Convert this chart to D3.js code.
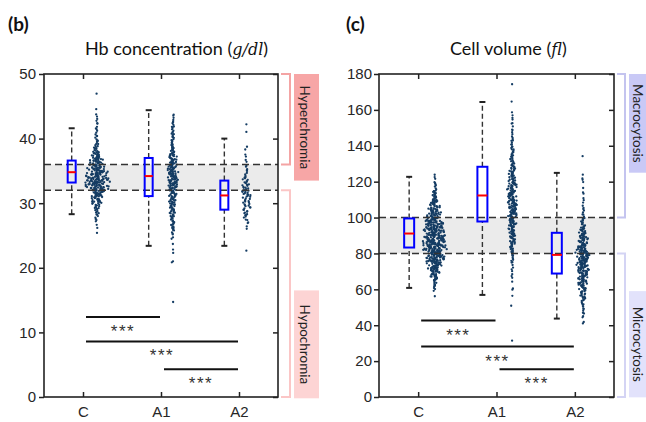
<!DOCTYPE html>
<html><head><meta charset="utf-8">
<script src="https://cdn.jsdelivr.net/npm/d3@7"></script>
<style>body{margin:0;background:#fff} svg{display:block}</style>
</head><body><svg id="chart" width="646" height="422"></svg>
<script>
// ---------------- DATA ----------------
const categories = ["C", "A1", "A2"];

// Panel (b) Hb concentration (g/dl)
const hbTicks = [0, 10, 20, 30, 40, 50];
const hbQ1 = [33.2, 31.1, 29.0];
const hbMedian = [34.8, 34.2, 31.2];
const hbQ3 = [36.6, 37.0, 33.5];
const hbWhiskerLow = [28.3, 23.4, 23.4];
const hbWhiskerHigh = [41.6, 44.4, 40.0];
const hbNormal = [32, 36];
// histogram of individual cells: [bin start, count], bin width 1 g/dl
const hbCountsC = [[25,1],[26,2],[27,4],[28,8],[29,12],[30,18],[31,28],[32,40],[33,45],[34,42],[35,35],[36,28],[37,18],[38,10],[39,6],[40,5],[41,4],[42,3],[43,3],[44,1],[46,1]];
const hbCountsA1 = [[14,1],[20,1],[21,1],[22,2],[23,1],[24,2],[25,5],[26,8],[27,10],[28,12],[29,14],[30,16],[31,18],[32,22],[33,25],[34,25],[35,24],[36,20],[37,16],[38,10],[39,8],[40,7],[41,6],[42,5],[43,3]];
const hbCountsA2 = [[22,1],[26,3],[27,5],[28,8],[29,9],[30,10],[31,12],[32,10],[33,8],[34,5],[35,4],[36,2],[37,2],[38,2],[41,1],[42,1]];
const hbSig = [[1, 2, 12.4], [1, 3, 8.6], [2, 3, 4.3]];

// Panel (c) Cell volume (fl)
const mcvTicks = [0, 20, 40, 60, 80, 100, 120, 140, 160, 180];
const mcvQ1 = [83.3, 97.8, 68.8];
const mcvMedian = [91.1, 112.3, 79.2];
const mcvQ3 = [99.5, 128.3, 91.5];
const mcvWhiskerLow = [60.8, 56.9, 43.7];
const mcvWhiskerHigh = [122.7, 164.4, 124.9];
const mcvNormal = [80, 100];
// bin width 5 fl
const mcvCountsC = [[55,2],[60,10],[65,25],[70,45],[75,60],[80,70],[85,72],[90,68],[95,55],[100,40],[105,28],[110,16],[115,8],[120,3]];
const mcvCountsA1 = [[30,1],[50,1],[55,2],[60,2],[65,3],[70,5],[75,8],[80,14],[85,20],[90,24],[95,28],[100,30],[105,30],[110,28],[115,26],[120,22],[125,18],[130,13],[135,10],[140,7],[145,5],[150,4],[155,3],[160,1],[170,1]];
const mcvCountsA2 = [[40,3],[45,6],[50,10],[55,16],[60,25],[65,32],[70,38],[75,40],[80,38],[85,30],[90,20],[95,12],[100,6],[105,4],[110,3],[115,2],[120,3],[130,1]];
const mcvSig = [[1, 2, 42.6], [1, 3, 28.1], [2, 3, 15.4]];

// ---------------- DRAW ----------------
const svg = d3.select("#chart");
const TXT = "#262626";

// deterministic hash used only for horizontal/within-bin jitter placement
function hash(i, s) { const v = Math.sin(i * 127.1 + s * 311.7) * 43758.5453; return v - Math.floor(v); }

function swarm(bins, binW, maxHalf, seed) {
  const maxC = d3.max(bins, d => d[1]);
  const c = bins.map(d => [d[0] + binW / 2, d[1]]);
  const dens = v => {
    if (v <= c[0][0]) return c[0][1];
    if (v >= c[c.length - 1][0]) return c[c.length - 1][1];
    for (let k = 0; k < c.length - 1; k++) {
      if (v >= c[k][0] && v <= c[k + 1][0]) {
        if (c[k + 1][0] - c[k][0] > binW * 1.5) return Math.min(c[k][1], c[k + 1][1]);
        const t = (v - c[k][0]) / (c[k + 1][0] - c[k][0]);
        return c[k][1] * (1 - t) + c[k + 1][1] * t;
      }
    }
    return 1;
  };
  const pts = []; let idx = seed;
  bins.forEach(([v, n]) => {
    for (let j = 0; j < n; j++) {
      idx++;
      const val = v + binW * ((j + hash(idx, 1)) / n);
      const hw = Math.max(1.0, maxHalf * dens(val) / maxC);
      const r = hash(idx, 2), r2 = hash(idx, 3);
      pts.push({ v: val, dx: ((r + r2) - 1) * hw * 1.15 });
    }
  });
  return pts;
}

function panel(cfg) {
  const g = svg.append("g");
  const x = d3.scaleLinear().domain([0.5, 3.5]).range([cfg.left, cfg.right]);
  const y = d3.scaleLinear().domain([0, cfg.ticks[cfg.ticks.length - 1]]).range([397, 74]);

  // normal band
  g.append("rect").attr("x", cfg.left).attr("width", cfg.right - cfg.left)
    .attr("y", y(cfg.normal[1])).attr("height", y(cfg.normal[0]) - y(cfg.normal[1]))
    .attr("fill", "#ebebeb");

  // swarms
  cfg.counts.forEach((bins, i) => {
    const pts = swarm(bins, cfg.binW, cfg.swarmHalf[i], i * 1000 + 7 + cfg.binW * 97);
    const cx = x(i + 1 + cfg.swarmOff[i]);
    g.append("g").selectAll("circle").data(pts).join("circle")
      .attr("cx", d => cx + d.dx).attr("cy", d => y(d.v)).attr("r", 1.15)
      .attr("fill", "#143c63");
  });

  // reference lines
  cfg.normal.forEach(v => {
    g.append("line").attr("x1", cfg.left).attr("x2", cfg.right).attr("y1", y(v)).attr("y2", y(v))
      .attr("stroke", "#333").attr("stroke-width", 1.5).attr("stroke-dasharray", "7,4");
  });

  // boxes
  categories.forEach((c, i) => {
    const bx = x(i + 1 + cfg.boxOff[i]);
    const hw = cfg.boxW / 2;
    [[cfg.q3[i], cfg.hi[i]], [cfg.lo[i], cfg.q1[i]]].forEach(([a, b]) => {
      g.append("line").attr("x1", bx).attr("x2", bx).attr("y1", y(a)).attr("y2", y(b))
        .attr("stroke", "#333").attr("stroke-width", 1.4).attr("stroke-dasharray", "5,3");
    });
    [cfg.lo[i], cfg.hi[i]].forEach(v => {
      g.append("line").attr("x1", bx - 3).attr("x2", bx + 3).attr("y1", y(v)).attr("y2", y(v))
        .attr("stroke", "#222").attr("stroke-width", 2);
    });
    g.append("rect").attr("x", bx - hw).attr("width", cfg.boxW)
      .attr("y", y(cfg.q3[i])).attr("height", y(cfg.q1[i]) - y(cfg.q3[i]))
      .attr("fill", "none").attr("stroke", "#0000ff").attr("stroke-width", 2);
    g.append("line").attr("x1", bx - hw).attr("x2", bx + hw).attr("y1", y(cfg.med[i])).attr("y2", y(cfg.med[i]))
      .attr("stroke", "#ff0000").attr("stroke-width", 2);
  });

  // significance bars
  cfg.sig.forEach(([a, b, v]) => {
    const x1 = x(a) + 3, x2 = x(b) - 1;
    g.append("line").attr("x1", x1).attr("x2", x2).attr("y1", y(v)).attr("y2", y(v))
      .attr("stroke", "#111").attr("stroke-width", 2);
    g.append("text").attr("x", (x1 + x2) / 2).attr("y", y(v) + 20)
      .attr("text-anchor", "middle").attr("font-family", "Liberation Sans, Arial").attr("font-size", 17)
      .attr("letter-spacing", 1.5).attr("fill", "#333").text("***");
  });

  // axes
  const left = g.append("g").attr("transform", `translate(${cfg.left},0)`)
    .call(d3.axisLeft(y).tickValues(cfg.ticks).tickSizeInner(5).tickSizeOuter(0).tickPadding(cfg.tickPad));
  const right = g.append("g").attr("transform", `translate(${cfg.right},0)`)
    .call(d3.axisLeft(y).tickValues(cfg.ticks).tickSizeInner(5).tickSizeOuter(0).tickFormat(""));
  const top = g.append("g").attr("transform", `translate(0,74)`)
    .call(d3.axisBottom(x).tickValues([1, 2, 3]).tickSizeInner(5).tickSizeOuter(0).tickFormat(""));
  const bottom = g.append("g").attr("transform", `translate(0,397)`)
    .call(d3.axisBottom(x).tickValues([1, 2, 3]).tickSizeInner(-5).tickSizeOuter(0).tickPadding(9)
      .tickFormat(d => categories[d - 1]));
  [left, right, top, bottom].forEach(a => {
    a.select(".domain").remove();
    a.selectAll("line").attr("stroke", "#222").attr("stroke-width", 1.5);
    a.selectAll("text").attr("font-family", "Liberation Sans, Arial").attr("font-size", 15).attr("fill", TXT);
  });
  g.append("rect").attr("x", cfg.left).attr("y", 74).attr("width", cfg.right - cfg.left).attr("height", 397 - 74)
    .attr("fill", "none").attr("stroke", "#222").attr("stroke-width", 1.6);

  // side brackets
  cfg.brackets.forEach(br => {
    const y1 = y(br.range[1]), y2 = y(br.range[0]);
    g.append("path").attr("d", `M${cfg.right + 3},${y1}H${cfg.brX}V${y2}H${cfg.right + 3}`)
      .attr("fill", "none").attr("stroke", br.line).attr("stroke-width", 2);
    const by1 = y(br.box[1]), by2 = y(br.box[0]);
    g.append("rect").attr("x", cfg.brX + 4).attr("width", 25).attr("y", by1).attr("height", by2 - by1)
      .attr("fill", br.fill);
    const ty = (by1 + by2) / 2;
    // baseline placed so the glyph tops face right
    g.append("text").attr("transform", `translate(${cfg.textBase},${ty}) rotate(90)`)
      .attr("text-anchor", "middle")
      .attr("font-family", "Lato, Open Sans").attr("font-size", 13.5).attr("fill", "#222").text(br.label);
  });

  // title
  const t = g.append("text").attr("x", cfg.titleX).attr("y", 55)
    .attr("font-family", "Lato, Open Sans").attr("font-size", 18).attr("fill", "#111");
  t.append("tspan").text(cfg.title + " (");
  t.append("tspan").attr("font-family", "DejaVu Serif, Liberation Serif").attr("font-style", "italic").attr("font-size", 16).text(cfg.unit);
  t.append("tspan").text(")");
  g.append("text").attr("x", cfg.labelX).attr("y", 31).attr("font-family", "Lato, Open Sans")
    .attr("font-weight", "bold").attr("font-size", 19).attr("fill", "#111").text(cfg.label);
}

panel({
  left: 44, right: 278, ticks: hbTicks, normal: hbNormal, binW: 1,
  counts: [hbCountsC, hbCountsA1, hbCountsA2], swarmHalf: [13, 5.5, 6], swarmOff: [0.175, 0.15, 0.09],
  boxOff: [-0.145, -0.158, -0.188], boxW: 8, tickPad: 3,
  q1: hbQ1, med: hbMedian, q3: hbQ3, lo: hbWhiskerLow, hi: hbWhiskerHigh, sig: hbSig,
  brX: 290, textBase: 300,
  brackets: [
    { label: "Hyperchromia", range: [36, 50], box: [33.5, 50], line: "#f4a4a4", fill: "#f7a6a6" },
    { label: "Hypochromia", range: [0, 32], box: [-0.2, 16.5], line: "#fbc6c6", fill: "#fdd4d4" }
  ],
  title: "Hb concentration", unit: "g/dl", titleX: 85, label: "(b)", labelX: 8
});
panel({
  left: 379, right: 614, ticks: mcvTicks, normal: mcvNormal, binW: 5,
  counts: [mcvCountsC, mcvCountsA1, mcvCountsA2], swarmHalf: [12, 5, 7], swarmOff: [0.21, 0.2, 0.106],
  boxOff: [-0.115, -0.18, -0.23], boxW: 10, tickPad: 2,
  q1: mcvQ1, med: mcvMedian, q3: mcvQ3, lo: mcvWhiskerLow, hi: mcvWhiskerHigh, sig: mcvSig,
  brX: 625, textBase: 632.5,
  brackets: [
    { label: "Macrocytosis", range: [100, 180], box: [125, 180], line: "#c4c4ef", fill: "#c9c9f6" },
    { label: "Microcytosis", range: [0, 80], box: [-0.2, 59], line: "#d4d4f4", fill: "#e2e2fb" }
  ],
  title: "Cell volume", unit: "fl", titleX: 450, label: "(c)", labelX: 346
});
</script></body></html>
